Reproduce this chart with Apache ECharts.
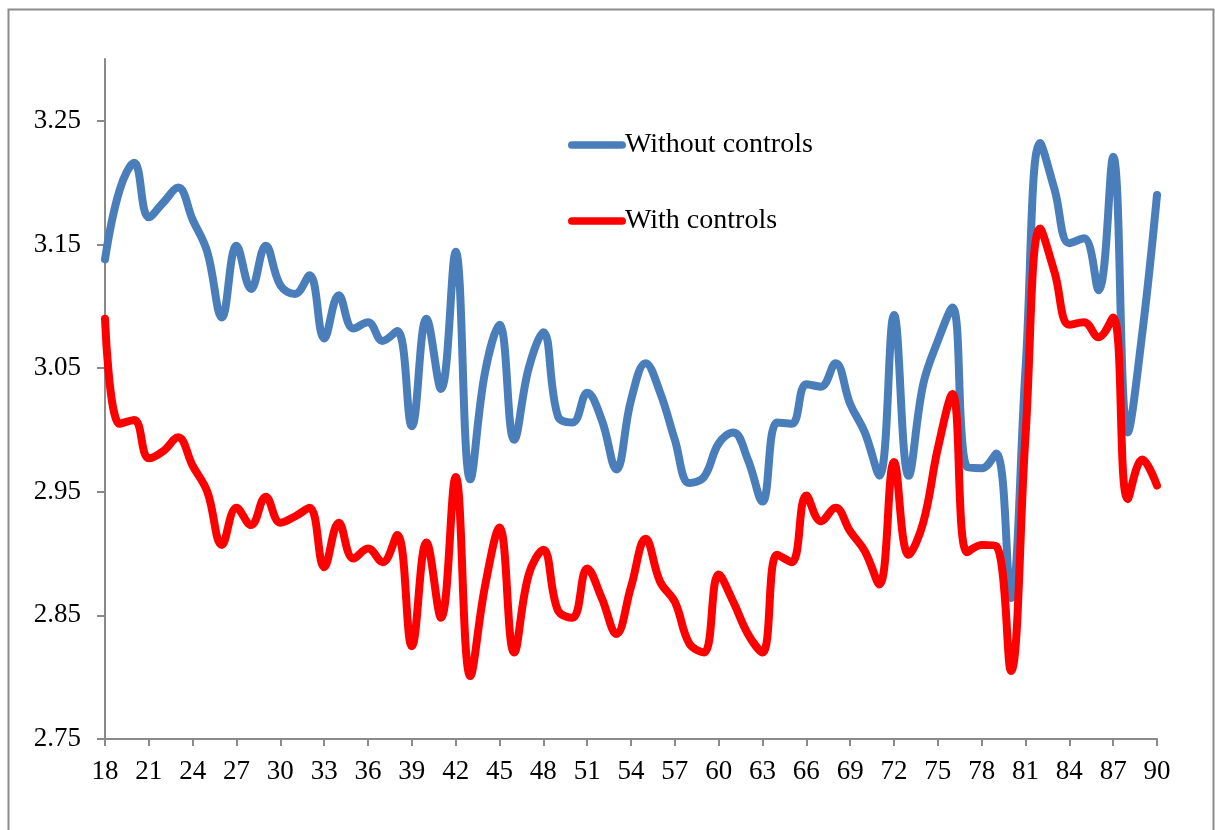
<!DOCTYPE html>
<html>
<head>
<meta charset="utf-8">
<script src="https://cdn.jsdelivr.net/npm/echarts@6/dist/echarts.min.js"></script>
<style>
html,body{margin:0;padding:0;background:#fff;}
#chart{width:1215px;height:830px;}
</style>
</head>
<body>
<div id="chart"></div>
<script>
const ages = [];
for (let a = 18; a <= 90; a++) ages.push(String(a));

const withoutControls = [
  3.138, 3.194, 3.216, 3.172, 3.184, 3.196, 3.170, 3.144, 3.091, 3.149,
  3.114, 3.149, 3.117, 3.110, 3.125, 3.074, 3.109, 3.082, 3.087, 3.072,
  3.080, 3.003, 3.090, 3.033, 3.144, 2.960, 3.046, 3.085, 2.992, 3.050,
  3.079, 3.011, 3.006, 3.030, 3.008, 2.968, 3.024, 3.054, 3.030, 2.992,
  2.957, 2.962, 2.989, 2.998, 2.976, 2.942, 3.006, 3.005, 3.037, 3.035,
  3.054, 3.021, 2.998, 2.963, 3.093, 2.963, 3.037, 3.072, 3.099, 2.970,
  2.969, 2.981, 2.864, 3.049, 3.232, 3.194, 3.151, 3.155, 3.113, 3.221,
  2.998, 3.079, 3.190
];

const withControls = [
  3.090, 3.005, 3.008, 2.977, 2.983, 2.994, 2.971, 2.950, 2.907, 2.937,
  2.923, 2.946, 2.925, 2.930, 2.937, 2.889, 2.925, 2.896, 2.904, 2.893,
  2.915, 2.825, 2.909, 2.848, 2.962, 2.801, 2.873, 2.921, 2.820, 2.883,
  2.903, 2.854, 2.848, 2.888, 2.864, 2.835, 2.873, 2.912, 2.877, 2.861,
  2.827, 2.820, 2.883, 2.861, 2.835, 2.820, 2.899, 2.893, 2.947, 2.926,
  2.937, 2.918, 2.902, 2.875, 2.974, 2.899, 2.925, 2.985, 3.029, 2.901,
  2.907, 2.906, 2.805, 2.995, 3.163, 3.127, 3.085, 3.087, 3.075, 3.091,
  2.944, 2.976, 2.955
];

const yTicks = [2.75, 2.85, 2.95, 3.05, 3.15, 3.25];

const FONT = '"Liberation Serif", "DejaVu Serif", serif';
const AXIS = '#8a8a8a';
const capsule = 'path://M4,0 H56 A4,4 0 0 1 56,8 H4 A4,4 0 0 1 4,0 Z';

const chart = echarts.init(document.getElementById('chart'), null, {renderer: 'canvas'});
chart.setOption({
  animation: false,
  backgroundColor: '#ffffff',
  graphic: [{
    type: 'rect',
    shape: {x: 8.5, y: 9.5, width: 1205, height: 840},
    style: {fill: 'none', stroke: '#8c8c8c', lineWidth: 2},
    silent: true
  }],
  grid: {left: 105, right: 58, top: 59, bottom: 91, containLabel: false},
  legend: [
    {
      data: ['Without controls'],
      left: 563, top: 126,
      itemWidth: 58, itemHeight: 8, itemGap: 0,
      icon: capsule,
      textStyle: {fontFamily: FONT, fontSize: 28, color: '#000', padding: [0, 0, 0, -6]}
    },
    {
      data: ['With controls'],
      left: 563, top: 202,
      itemWidth: 58, itemHeight: 8, itemGap: 0,
      icon: capsule,
      textStyle: {fontFamily: FONT, fontSize: 28, color: '#000', padding: [0, 0, 0, -6]}
    }
  ],
  xAxis: {
    type: 'category',
    data: ages,
    boundaryGap: false,
    axisLine: {lineStyle: {color: AXIS, width: 2}},
    axisTick: {show: true, interval: 2, length: 7, lineStyle: {color: AXIS, width: 2}},
    axisLabel: {interval: 2, color: '#000', fontFamily: FONT, fontSize: 27, margin: 19},
    splitLine: {show: false}
  },
  yAxis: {
    type: 'value',
    min: 2.75,
    max: 3.30,
    interval: 0.1,
    axisLine: {show: true, lineStyle: {color: AXIS, width: 2}},
    axisTick: {show: true, length: 8, customValues: yTicks, lineStyle: {color: AXIS, width: 2}},
    axisLabel: {
      customValues: yTicks,
      color: '#000', fontFamily: FONT, fontSize: 27, margin: 24,
      formatter: v => v.toFixed(2)
    },
    splitLine: {show: false}
  },
  series: [
    {
      name: 'Without controls',
      type: 'line',
      data: withoutControls,
      smooth: 0.4,
      showSymbol: false,
      symbol: 'none',
      color: '#4a7ebb',
      lineStyle: {color: '#4a7ebb', width: 8, cap: 'round', join: 'round'}
    },
    {
      name: 'With controls',
      type: 'line',
      data: withControls,
      smooth: 0.4,
      showSymbol: false,
      symbol: 'none',
      color: '#ff0000',
      lineStyle: {color: '#ff0000', width: 8, cap: 'round', join: 'round'}
    }
  ]
});
</script>
</body>
</html>
